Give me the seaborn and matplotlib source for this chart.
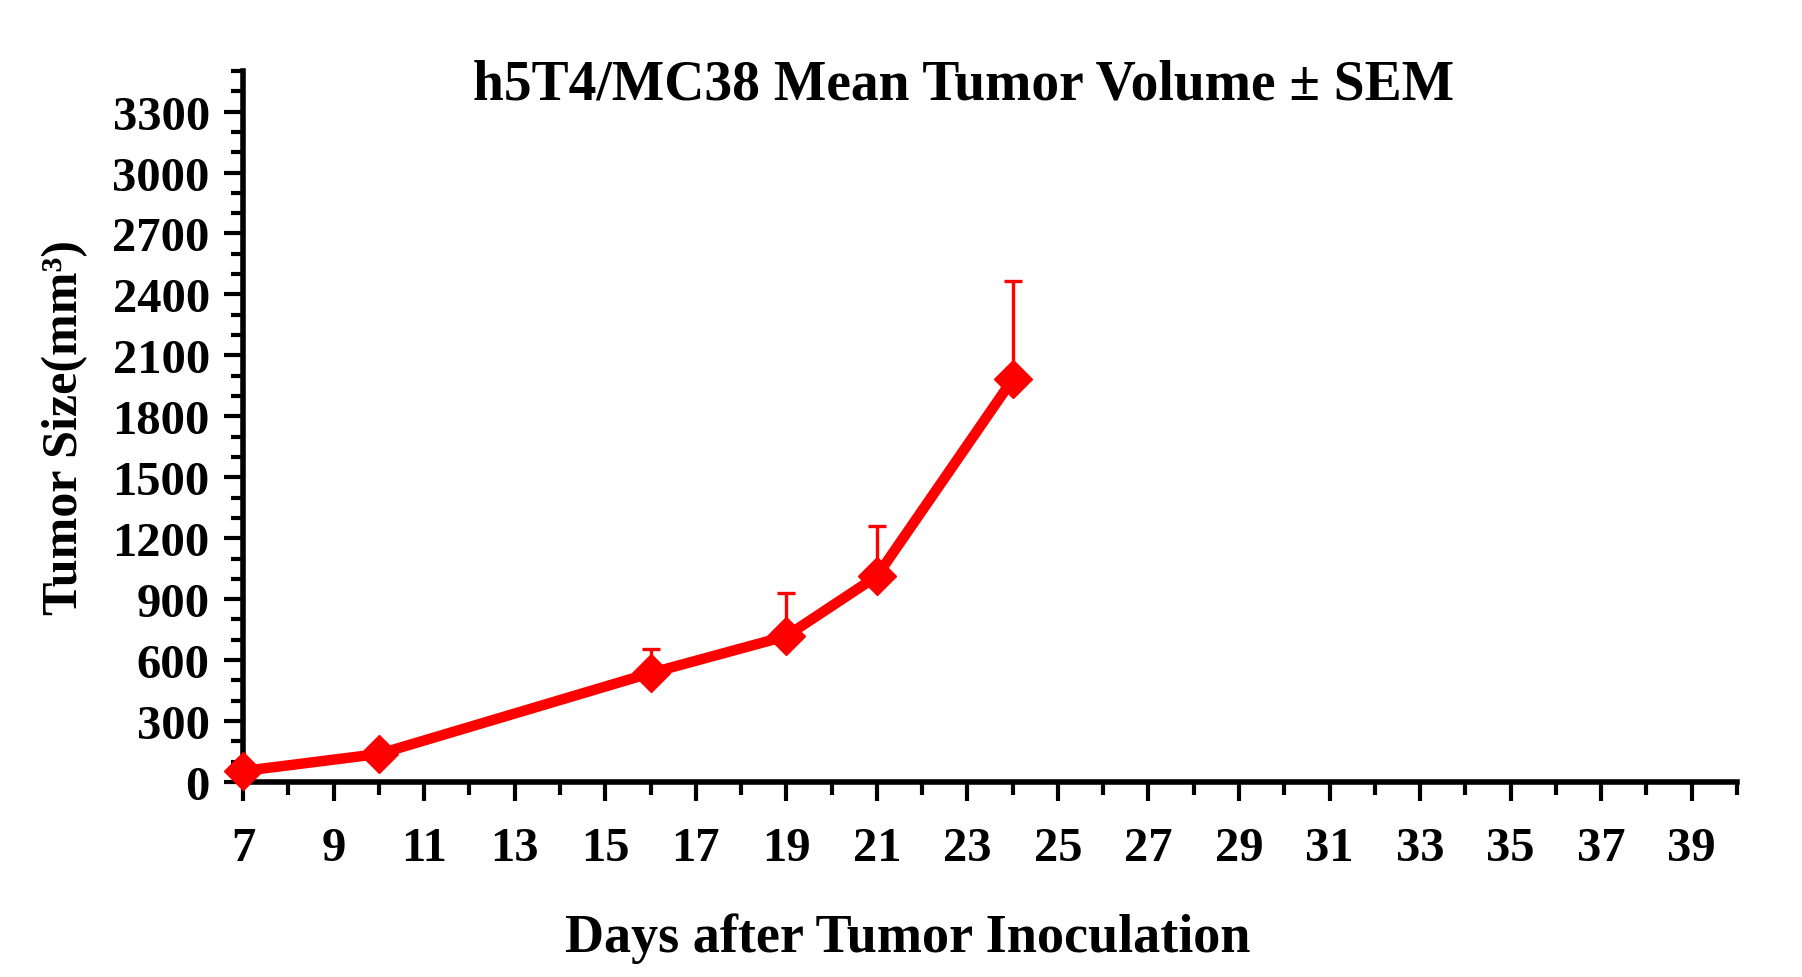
import numpy as np
import pandas as pd
import matplotlib
matplotlib.use("Agg")
import matplotlib.pyplot as plt
from matplotlib.ticker import MultipleLocator
import seaborn as sns

# 数据：接种后天数、平均肿瘤体积、SEM
days = [7, 10, 16, 19, 21, 24]
mean_volume = [54, 138, 536, 718, 1013, 1982]
sem = [15, 30, 118, 212, 246, 482]

sns.set_style("ticks")
plt.rcParams['font.family'] = ['Liberation Serif', 'DejaVu Serif']
plt.rcParams['font.weight'] = 'bold'
for key in ["text.color", "axes.labelcolor", "xtick.color", "ytick.color",
            "axes.edgecolor"]:
    plt.rcParams[key] = "black"

df = pd.DataFrame({"day": days, "volume": mean_volume, "sem": sem})

fig = plt.figure(figsize=(18.02, 9.78), dpi=100)
ax = fig.add_axes([0.1349, 0.1994, 0.8290, 0.7270])

# 只画上误差棒
ax.errorbar(df["day"], df["volume"], yerr=[np.zeros(len(df)), df["sem"]],
            fmt="none", ecolor="#ff0000", elinewidth=2.4, capsize=6.2,
            capthick=2.4, zorder=3, clip_on=False)

sns.lineplot(data=df, x="day", y="volume", ax=ax, color="#ff0000",
             linewidth=7.5, marker="D", markersize=19, markeredgewidth=1,
             markeredgecolor="#ff0000", zorder=5, clip_on=False)

ax.set_xlim(7, 40)
ax.set_ylim(0, 3500)
ax.set_xticks(np.arange(7, 40, 2))
ax.xaxis.set_minor_locator(MultipleLocator(1))
ax.set_yticks(np.arange(0, 3301, 300))
ax.yaxis.set_minor_locator(MultipleLocator(100))

sns.despine(ax=ax)
for s in ["left", "bottom"]:
    ax.spines[s].set_linewidth(4)
    ax.spines[s].set_color("black")
ax.tick_params(axis="both", which="major", direction="out", length=14,
               width=3, labelsize=35, color="black", labelcolor="black")
ax.tick_params(axis="both", which="minor", direction="out", length=9, width=3,
               color="black")
ax.tick_params(axis="x", which="major", pad=18)
ax.tick_params(axis="y", which="major", pad=10)
for lab in ax.get_xticklabels() + ax.get_yticklabels():
    lab.set_fontweight("bold")

ax.set_title("h5T4/MC38 Mean Tumor Volume ± SEM", fontsize=40,
             fontweight="bold", x=0.482, y=0.9606, pad=0, color="black")
ax.set_xlabel("Days after Tumor Inoculation", fontsize=39, fontweight="bold")
ax.xaxis.set_label_coords(0.445, -0.2377)
ax.xaxis.label.set_verticalalignment("baseline")
ax.set_ylabel("Tumor Size(mm³)", fontsize=36, fontweight="bold")
ax.yaxis.set_label_coords(-0.119, 0.5)
ax.yaxis.label.set_verticalalignment("center")

fig.savefig("out.png", dpi=100, facecolor="white")
